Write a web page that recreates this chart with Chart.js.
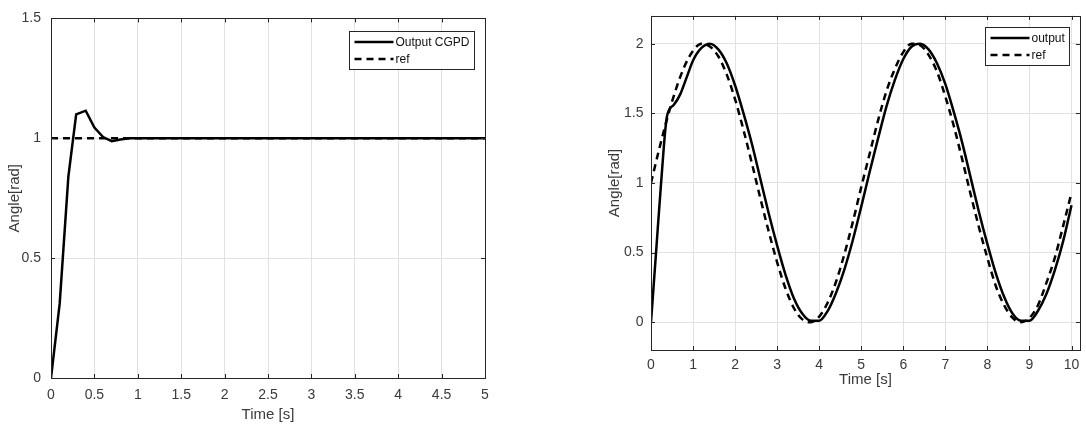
<!DOCTYPE html>
<html>
<head>
<meta charset="utf-8">
<title>Angle response</title>
<script src="https://cdn.jsdelivr.net/npm/chart.js@4.4.1/dist/chart.umd.min.js"></script>
<style>
    body { margin: 0; background: #ffffff; }
    canvas { position: absolute; top: 0; }
    #canvas_step  { left: 0; }
    #canvas_track { left: 560px; }
</style>
</head>
<body>
<canvas id="canvas_step" width="560" height="428"></canvas>
<canvas id="canvas_track" width="526" height="428"></canvas>
<script>

// Left plot - step response
const step_time   = [0, 0.1, 0.2, 0.29, 0.4, 0.5, 0.6, 0.7, 0.8, 0.9, 1, 2, 3, 4, 5]
const step_output = [0, 0.31, 0.84, 1.10, 1.115, 1.045, 1.005, 0.988, 0.995, 1, 1, 1, 1, 1, 1]
const step_ref_time = [0, 5]
const step_ref      = [1, 1]

// Right plot - tracking of a sine reference
const track_ref_time = [0, 0.2, 0.4, 0.6, 0.8, 1.0, 1.2, 1.4, 1.6, 1.8, 2.0, 2.2, 2.4, 2.6, 2.8, 3.0, 3.2, 3.4, 3.6, 3.8,
                        4.0, 4.2, 4.4, 4.6, 4.8, 5.0, 5.2, 5.4, 5.6, 5.8, 6.0, 6.2, 6.4, 6.6, 6.8, 7.0, 7.2, 7.4, 7.6, 7.8,
                        8.0, 8.2, 8.4, 8.6, 8.8, 9.0, 9.2, 9.4, 9.6, 9.8, 10.0]
const track_ref      = [1.00, 1.25, 1.48, 1.68, 1.84, 1.95, 2.00, 1.98, 1.91, 1.78, 1.60, 1.38, 1.14, 0.89, 0.65, 0.43, 0.24, 0.10, 0.02, 0.00,
                        0.04, 0.14, 0.29, 0.49, 0.72, 0.97, 1.21, 1.45, 1.66, 1.82, 1.94, 2.00, 1.99, 1.92, 1.80, 1.62, 1.41, 1.17, 0.92, 0.68,
                        0.46, 0.26, 0.12, 0.03, 0.00, 0.03, 0.12, 0.28, 0.46, 0.69, 0.93]
const track_out_time = [0, 0.12, 0.24, 0.38, 0.54, 0.7, 0.85, 1.0, 1.2, 1.4, 1.6, 1.8, 2.0, 2.2, 2.4, 2.6, 2.8, 3.0, 3.2, 3.4,
                        3.6, 3.8, 4.0, 4.2, 4.4, 4.6, 4.8, 5.0, 5.2, 5.4, 5.6, 5.8, 6.0, 6.2, 6.4, 6.6, 6.8, 7.0, 7.2, 7.4,
                        7.6, 7.8, 8.0, 8.2, 8.4, 8.6, 8.8, 9.0, 9.2, 9.4, 9.6, 9.8, 10.0]
const track_output   = [0, 0.50, 1.00, 1.48, 1.56, 1.64, 1.76, 1.88, 1.97, 2.00, 1.96, 1.86, 1.70, 1.50, 1.28, 1.03, 0.78, 0.55, 0.34, 0.17,
                        0.06, 0.01, 0.01, 0.08, 0.21, 0.38, 0.59, 0.83, 1.08, 1.32, 1.55, 1.74, 1.89, 1.98, 2.00, 1.96, 1.86, 1.71, 1.51, 1.29,
                        1.04, 0.79, 0.56, 0.35, 0.18, 0.06, 0.01, 0.01, 0.08, 0.20, 0.37, 0.58, 0.84]

const FONT = "'Liberation Sans', Arial, sans-serif"
const TEXT = '#3a3a3a'
const AXIS = '#262626'
const GRID = '#e1e1e1'

function points(xs, ys) {
    return xs.map((x, i) => ({x: x, y: ys[i]}))
}

// MATLAB style labels: 1 not 1.0
function tick_label(value) {
    return String(Number(value.toFixed(2)))
}

// Box, inward ticks and legend drawn on top, like MATLAB axes
const matlab_axes = {
    id: 'matlab_axes',
    afterDraw(chart, args, opts) {
        const ctx = chart.ctx
        const a = chart.chartArea
        const sx = chart.scales.x
        const sy = chart.scales.y
        ctx.save()
        ctx.strokeStyle = AXIS
        ctx.lineWidth = 1
        ctx.setLineDash([])
        ctx.strokeRect(Math.round(a.left) + 0.5, Math.round(a.top) + 0.5,
                       Math.round(a.right - a.left), Math.round(a.bottom - a.top))

        ctx.beginPath()
        sx.ticks.forEach(t => {
            const p = Math.round(sx.getPixelForValue(t.value)) + 0.5
            ctx.moveTo(p, a.bottom); ctx.lineTo(p, a.bottom - 4)
            ctx.moveTo(p, a.top);    ctx.lineTo(p, a.top + 4)
        })
        sy.ticks.forEach(t => {
            const p = Math.round(sy.getPixelForValue(t.value)) + 0.5
            ctx.moveTo(a.left, p);  ctx.lineTo(a.left + 4, p)
            ctx.moveTo(a.right, p); ctx.lineTo(a.right - 4, p)
        })
        ctx.stroke()

        // legend
        ctx.font = '12px ' + FONT
        const sets = chart.data.datasets
        const textW = Math.max(...sets.map(d => ctx.measureText(d.label).width))
        const w = Math.round(5 + 39 + 2 + textW + 5)
        const h = 38
        const x0 = Math.round(a.right - opts.right - w) + 0.5
        const y0 = Math.round(a.top + opts.top) + 0.5
        ctx.fillStyle = '#ffffff'
        ctx.fillRect(x0, y0, w, h)
        ctx.strokeStyle = AXIS
        ctx.strokeRect(x0, y0, w, h)
        sets.forEach((d, i) => {
            const y = y0 + 10.5 + i * 17
            ctx.strokeStyle = d.borderColor
            ctx.lineWidth = d.borderWidth
            ctx.setLineDash(d.borderDash || [])
            ctx.beginPath()
            ctx.moveTo(x0 + 5, y)
            ctx.lineTo(x0 + 44, y)
            ctx.stroke()
            ctx.fillStyle = '#111111'
            ctx.textBaseline = 'middle'
            ctx.textAlign = 'left'
            ctx.fillText(d.label, x0 + 46, y + 0.5)
        })
        ctx.restore()
    }
}

function axis_x(max, step, tickPad, titlePad, height) {
    return {
        type: 'linear', min: 0, max: max,
        ticks: { stepSize: step, includeBounds: false, padding: tickPad, color: TEXT, maxRotation: 0, autoSkip: false,
                 font: { family: FONT, size: 14 }, callback: tick_label },
        grid: { color: GRID, drawTicks: false },
        border: { display: false },
        title: { display: true, text: 'Time [s]', color: TEXT, font: { family: FONT, size: 15 },
                 padding: { top: 0, bottom: titlePad } },
        afterFit: s => { s.height = height }
    }
}

function axis_y(min, max, tickPad, titlePad, width) {
    return {
        type: 'linear', min: min, max: max,
        ticks: { stepSize: 0.5, includeBounds: false, padding: tickPad, color: TEXT, autoSkip: false,
                 font: { family: FONT, size: 14 }, callback: tick_label },
        grid: { color: GRID, drawTicks: false },
        border: { display: false },
        title: { display: true, text: 'Angle[rad]', color: TEXT, font: { family: FONT, size: 15 },
                 padding: { top: titlePad, bottom: 0 } },
        afterFit: s => { s.width = width }
    }
}

function line_set(label, data, dashed, smooth) {
    return {
        label: label,
        data: data,
        showLine: true,
        borderColor: '#000000',
        borderWidth: 2.5,
        borderDash: dashed ? [7, 5] : [],
        pointRadius: 0,
        tension: 0,
        cubicInterpolationMode: smooth ? 'monotone' : 'default'
    }
}

// First graph
new Chart(document.getElementById('canvas_step'), {
    type: 'scatter',
    data: {
        datasets: [
            line_set('Output CGPD', points(step_time, step_output), false, false),
            line_set('ref', points(step_ref_time, step_ref), true, false)
        ]
    },
    options: {
        responsive: false,
        animation: false,
        layout: { padding: { left: 0, top: 10, right: 75, bottom: 0 } },
        scales: {
            x: axis_x(5, 0.5, 8.6, 4, 50),
            y: axis_y(0, 1.5, 10, 6, 51)
        },
        plugins: {
            legend: { display: false },
            tooltip: { enabled: false },
            matlab_axes: { right: 11, top: 12.5 }
        }
    },
    plugins: [matlab_axes]
})

// Second graph
new Chart(document.getElementById('canvas_track'), {
    type: 'scatter',
    data: {
        datasets: [
            line_set('output', points(track_out_time, track_output), false, true),
            line_set('ref', points(track_ref_time, track_ref), true, true)
        ]
    },
    options: {
        responsive: false,
        animation: false,
        layout: { padding: { left: 0, top: 8, right: 5, bottom: 0 } },
        scales: {
            x: axis_x(10.2, 1, 6.6, 39, 78),
            y: axis_y(-0.2, 2.2, 7.5, 46, 91)
        },
        plugins: {
            legend: { display: false },
            tooltip: { enabled: false },
            matlab_axes: { right: 10.5, top: 11 }
        }
    },
    plugins: [matlab_axes]
})

</script>
</body>
</html>
